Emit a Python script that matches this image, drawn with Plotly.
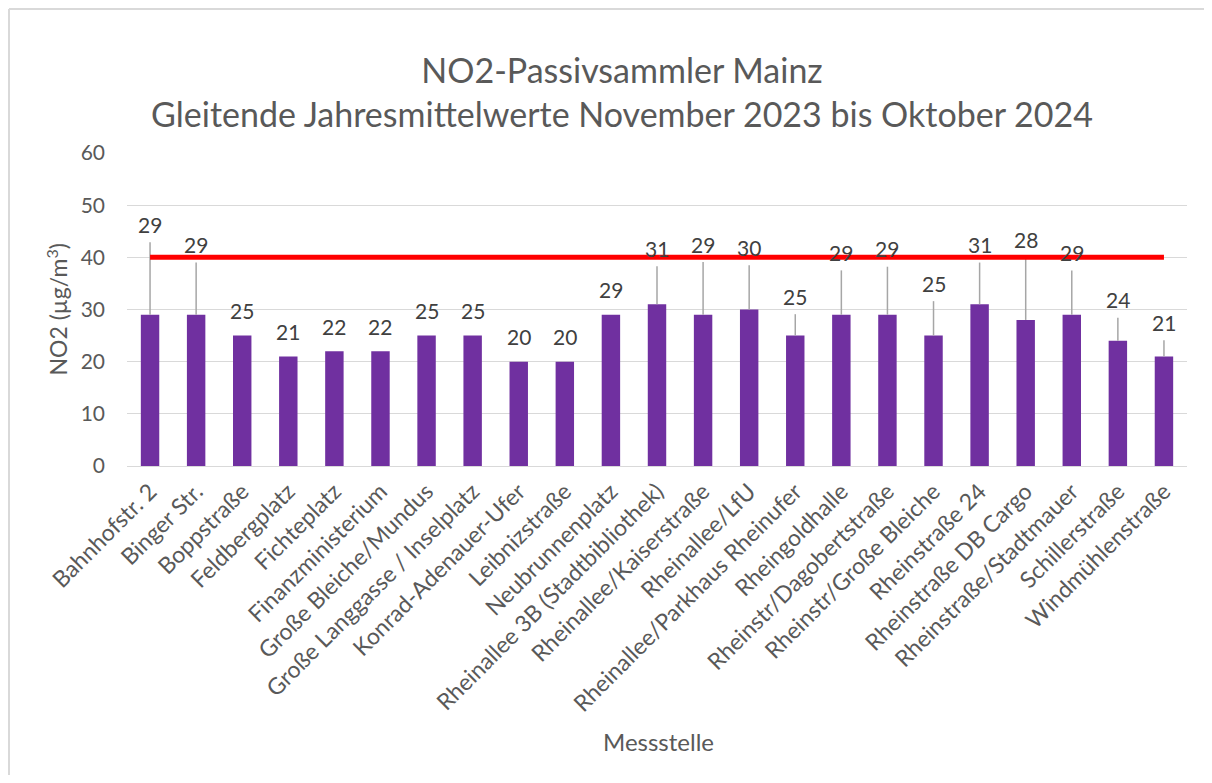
import plotly.graph_objects as go

categories = ["Bahnhofstr. 2", "Binger Str.", "Boppstraße", "Feldbergplatz", "Fichteplatz",
              "Finanzministerium", "Große Bleiche/Mundus", "Große Langgasse / Inselplatz",
              "Konrad-Adenauer-Ufer", "Leibnizstraße", "Neubrunnenplatz",
              "Rheinallee 3B (Stadtbibliothek)", "Rheinallee/Kaiserstraße", "Rheinallee/LfU",
              "Rheinallee/Parkhaus Rheinufer", "Rheingoldhalle", "Rheinstr/Dagobertstraße",
              "Rheinstr/Große Bleiche", "Rheinstraße 24", "Rheinstraße DB Cargo",
              "Rheinstraße/Stadtmauer", "Schillerstraße", "Windmühlenstraße"]
values = [29, 29, 25, 21, 22, 22, 25, 25, 20, 20, 29, 31, 29, 30, 25, 29, 29, 25, 31, 28, 29, 24, 21]
err_plus = [13.9, 10.0, 0, 0, 0, 0, 0, 0, 0, 0, 0, 7.3, 10.1, 8.5, 4.1, 8.5, 9.2, 6.6, 8.0, 11.9, 8.5, 4.4, 3.1]
limit = [40] * len(categories)
y_ticks = [0, 10, 20, 30, 40, 50, 60]

FONT = "Lato"
GRAY = "#595959"

# page has an 8px body margin, so the figure is sized/offset to compensate
W, H = 1196, 767
ML, MR, MT, MB = 119, 17, 145, 309
PW, PH = W - ML - MR, H - MT - MB

fig = go.Figure()
fig.add_trace(go.Bar(
    x=categories, y=values,
    marker=dict(color="#7030a0", line=dict(width=0)),
    error_y=dict(type="data", symmetric=False, array=err_plus,
                 arrayminus=[0] * len(values), color="#a6a6a6", thickness=1.5, width=0),
    showlegend=False, hoverinfo="x+y",
))
fig.add_trace(go.Scatter(
    x=categories, y=limit, mode="lines",
    line=dict(color="#ff0000", width=5),
    showlegend=False, hoverinfo="skip",
))

annotations = []
for c, v, e in zip(categories, values, err_plus):
    annotations.append(dict(
        x=c, y=v + e, xref="x", yref="y", text=str(v), showarrow=False,
        yanchor="middle", yshift=18 if e > 0 else 25,
        font=dict(family=FONT, size=21, color="#404040"),
    ))

annotations.append(dict(
    x=(49 - ML) / PW, y=0.5, xref="paper", yref="paper",
    text="NO2 (µg/m<sup>3</sup>)", showarrow=False, textangle=-90,
    xanchor="center", yanchor="middle",
    font=dict(family=FONT, size=23, color=GRAY),
))
annotations.append(dict(
    x=(650 - ML) / PW, y=(458 - 733) / PH, xref="paper", yref="paper",
    text="Messstelle", showarrow=False,
    xanchor="center", yanchor="middle",
    font=dict(family=FONT, size=24, color=GRAY),
))

bx0 = (1 - ML) / PW
bx1 = (W - ML) / PW
by_top = (458 - 1) / PH
by_bot = (458 - H) / PH
fig.update_layout(
    width=W, height=H,
    margin=dict(l=ML, r=MR, t=MT, b=MB),
    paper_bgcolor="white", plot_bgcolor="white",
    bargap=0.6,
    title=dict(
        text="NO2-Passivsammler Mainz<br>Gleitende Jahresmittelwerte November 2023 bis Oktober 2024",
        x=614 / W, xanchor="center", xref="container",
        y=1 - 74.5 / H, yanchor="middle", yref="container",
        font=dict(family=FONT, size=34, color=GRAY),
    ),
    annotations=annotations,
    shapes=[
        dict(type="line", xref="paper", yref="paper", x0=bx0, x1=bx0, y0=by_bot, y1=by_top,
             line=dict(color="#d9d9d9", width=2), layer="below"),
        dict(type="line", xref="paper", yref="paper", x0=bx0, x1=bx1, y0=by_top, y1=by_top,
             line=dict(color="#d9d9d9", width=2), layer="below"),
    ],
)
fig.update_yaxes(
    range=[0, 60], tickvals=y_ticks, showgrid=True, gridcolor="#d9d9d9", gridwidth=1,
    zeroline=False, showline=False,
    tickfont=dict(family=FONT, size=21, color=GRAY),
    ticklabelstandoff=21,
)
fig.update_xaxes(
    tickangle=-45, showgrid=False, showline=True, linecolor="#d9d9d9", linewidth=1,
    tickfont=dict(family=FONT, size=23, color=GRAY),
    ticklabelstandoff=2,
)

fig.write_html("out.html")
